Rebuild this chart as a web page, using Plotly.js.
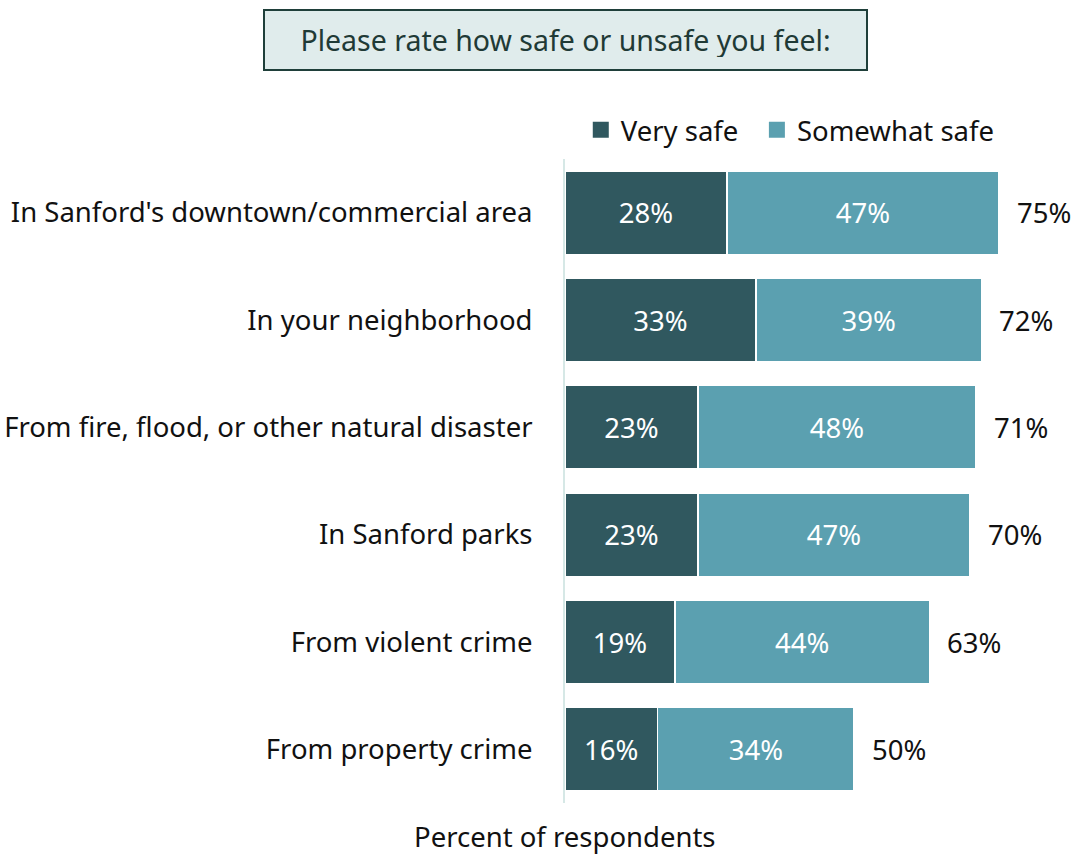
<!DOCTYPE html>
<html><head><meta charset="utf-8">
<script src="https://cdn.plot.ly/plotly-3.0.1.min.js"></script>
<style>html,body{margin:0;padding:0;background:#fff}#chart{width:1076px;height:856px}</style>
</head><body><div id="chart"></div>
<script>
const categories = ["In Sanford's downtown/commercial area","In your neighborhood","From fire, flood, or other natural disaster","In Sanford parks","From violent crime","From property crime"];
const verySafe = [28,33,23,23,19,16];
const somewhatSafe = [47,39,48,47,44,34];
const totals = [75,72,71,70,63,50];
const seriesNames = ["Very safe","Somewhat safe"];
const seriesColors = ['#30585f','#5ba0b0'];
const titleText = "Please rate how safe or unsafe you feel:";
const xTitle = "Percent of respondents";

const FONT = "Noto Sans, Open Sans, sans-serif";
const FS = 27.5;
const traces = [
  {type:'bar', orientation:'h', name:seriesNames[0], y:categories, x:verySafe, showlegend:false,
   marker:{color:seriesColors[0], line:{color:'#ffffff', width:1.5}},
   text:verySafe.map(v=>v+'%'), textposition:'inside', insidetextanchor:'middle',
   textfont:{color:'#ffffff', size:FS, family:FONT}, hoverinfo:'none'},
  {type:'bar', orientation:'h', name:seriesNames[1], y:categories, x:somewhatSafe, showlegend:false,
   marker:{color:seriesColors[1], line:{color:'#ffffff', width:1.5}},
   text:somewhatSafe.map(v=>v+'%'), textposition:'inside', insidetextanchor:'middle',
   textfont:{color:'#ffffff', size:FS, family:FONT}, hoverinfo:'none'}
];
const legendIds = ['legend','legend2'];
seriesNames.forEach((n,i)=>traces.push({type:'scatter', mode:'markers', name:n, x:[null], y:[null],
  legend:legendIds[i], marker:{symbol:'square', size:16, color:seriesColors[i]}, hoverinfo:'none'}));

const annotations = totals.map((t,i)=>({x:t, y:categories[i], xref:'x', yref:'y', text:t+'%',
  showarrow:false, xanchor:'left', xshift:16, font:{size:FS, color:'#111111', family:FONT}}));
annotations.push({xref:'paper', yref:'paper', x:0, y:0, xanchor:'center', yanchor:'top', yshift:-13,
  text:xTitle, showarrow:false, font:{size:FS, color:'#111111', family:FONT}});
annotations.push({xref:'paper', yref:'paper', x:0, y:1, xanchor:'center', yanchor:'bottom', yshift:88,
  text:titleText, showarrow:false, font:{size:28.5, color:'#1f3a36', family:FONT},
  bgcolor:'#e0ecec', bordercolor:'#1f3f3a', borderwidth:2, borderpad:12, width:577, height:34});

const legendBase = {orientation:'h', y:1.007, xanchor:'left', yanchor:'bottom',
  font:{size:FS, color:'#111111', family:FONT}, itemwidth:30, bgcolor:'rgba(0,0,0,0)'};

const layout = {
  width:1076, height:856, paper_bgcolor:'#ffffff', plot_bgcolor:'#ffffff',
  margin:{l:565, r:2, t:159, b:53},
  barmode:'stack', bargap:0.22,
  font:{family:FONT, color:'#111111'},
  xaxis:{range:[0,88], showgrid:false, zeroline:false, showticklabels:false, ticks:'', fixedrange:true},
  yaxis:{autorange:'reversed', showgrid:false, zeroline:false, showline:true, linecolor:'#d6e8e6', linewidth:2,
    ticks:'', ticklen:0, tickfont:{size:FS, color:'#111111', family:FONT}, automargin:false, ticklabelstandoff:25},
  showlegend:true,
  legend:Object.assign({}, legendBase, {x:0.031}),
  legend2:Object.assign({}, legendBase, {x:0.377}),
  annotations:annotations
};
Plotly.newPlot('chart', traces, layout, {staticPlot:true, displayModeBar:false});
</script></body></html>
